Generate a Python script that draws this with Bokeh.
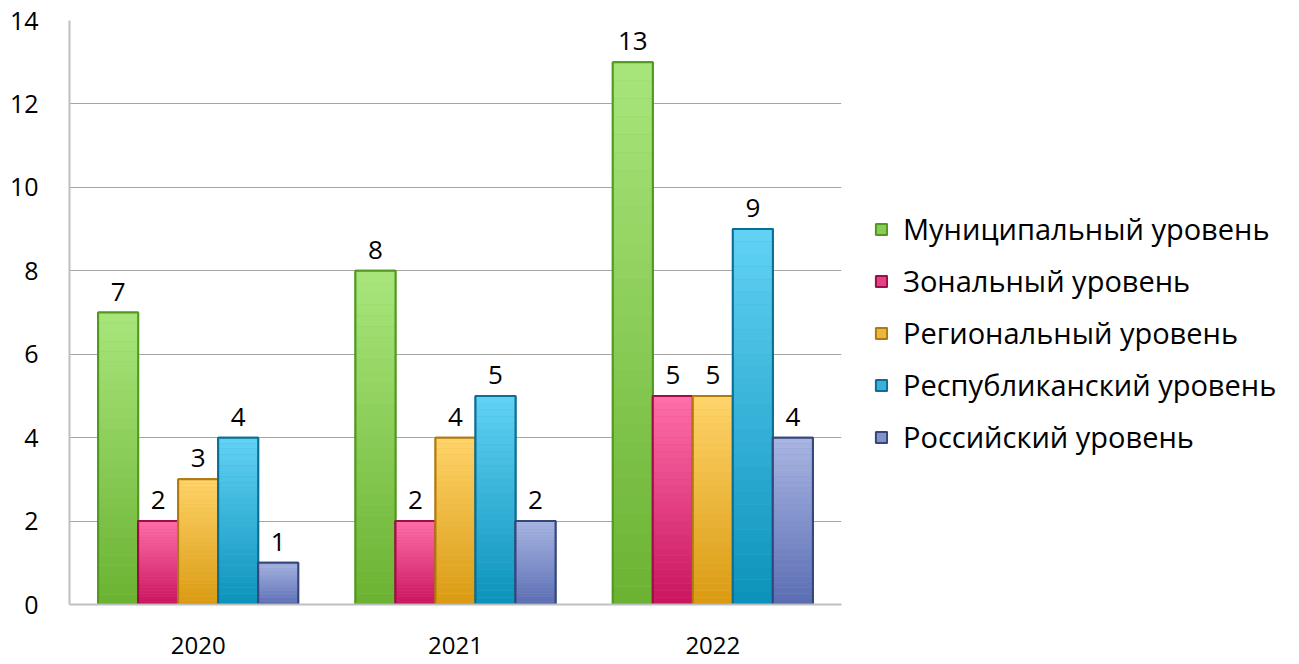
from bokeh.plotting import figure
from bokeh.models import FactorRange, Legend, LegendItem, ColumnDataSource, SingleIntervalTicker, LabelSet
from bokeh.core.properties import value
from bokeh.transform import dodge
from bokeh.embed import file_html
from bokeh.resources import INLINE

years = ["2020", "2021", "2022"]
series = ["Муниципальный уровень", "Зональный уровень", "Региональный уровень",
          "Республиканский уровень", "Российский уровень"]
municipal = [7, 8, 13]
zonal = [2, 2, 5]
regional = [3, 4, 5]
republic = [4, 5, 9]
russian = [1, 2, 4]
values = [municipal, zonal, regional, republic, russian]

top_cols = ["#a8e67c", "#ff70a9", "#ffd46a", "#62d2f5", "#a9b6e2"]
bot_cols = ["#6bb232", "#c8145e", "#d99a12", "#0c92ba", "#5a6db3"]
line_cols = ["#4f9a1f", "#9c0f47", "#b07a10", "#0b6e94", "#35467f"]

FONT = "Open Sans"

p = figure(x_range=FactorRange(factors=years), y_range=(0, 14),
           frame_width=772, frame_height=584, output_backend="svg", toolbar_location=None,
           min_border_left=69, min_border_right=10, min_border_top=20, min_border_bottom=59)
p.outline_line_color = None
p.background_fill_color = "white"

def hx(c):
    return tuple(int(c[i:i+2], 16) for i in (1, 3, 5))

def mix(a, b, t):
    a, b = hx(a), hx(b)
    return "#%02x%02x%02x" % tuple(round(a[k] + (b[k] - a[k]) * t) for k in range(3))

W = 0.1555
offsets = [-2 * W, -W, 0, W, 2 * W]
N = 30
items = []
for s, (name, vals) in enumerate(zip(series, values)):
    src = ColumnDataSource(dict(year=years, v=vals, lab=[str(v) for v in vals]))
    xd = dodge("year", offsets[s], range=p.x_range)
    base = p.vbar(x=xd, top="v", width=W, source=src,
                  fill_color=mix(top_cols[s], bot_cols[s], 0.5), line_color=line_cols[s], line_width=2)
    items.append(LegendItem(label=name, renderers=[base]))
    for i in range(N):
        frac0 = i / N
        frac1 = (i + 1) / N
        sl = ColumnDataSource(dict(year=years,
                                   b=[v * frac0 for v in vals],
                                   t=[v * frac1 for v in vals]))
        p.vbar(x=xd, bottom="b", top="t", width=W, source=sl,
               fill_color=mix(bot_cols[s], top_cols[s], (i + 0.5) / N), line_color=None)
    p.vbar(x=xd, top="v", width=W, source=src, fill_color=None,
           line_color=line_cols[s], line_width=2)
    labels = LabelSet(x=xd, y="v", text="lab", source=src, text_align="center",
                      text_baseline="bottom", y_offset=12, text_font_size=value("26px"),
                      text_font=value(FONT), text_color="black")
    p.add_layout(labels)

p.yaxis.ticker = SingleIntervalTicker(interval=2)
p.ygrid.ticker = SingleIntervalTicker(interval=2)
p.ygrid.grid_line_color = "#a6a6a6"
p.ygrid.grid_line_width = 1
p.xgrid.grid_line_color = None

for ax in (p.xaxis, p.yaxis):
    ax.axis_line_color = "#bfbfbf"
    ax.axis_line_width = 2
    ax.major_tick_line_color = None
    ax.minor_tick_line_color = None
    ax.major_label_text_font = FONT
    ax.major_label_text_color = "black"

p.yaxis.major_label_text_font_size = "25px"
p.yaxis.major_label_standoff = 25
p.xaxis.major_label_text_font_size = "24px"
p.xaxis.major_label_standoff = 26

legend = Legend(items=items, location=(33, 148), orientation="vertical",
                label_text_font=FONT, label_text_font_size="29px", label_text_color="black",
                glyph_width=14, glyph_height=14, label_height=30, label_standoff=15,
                spacing=13, padding=0, margin=0, border_line_color=None,
                background_fill_alpha=0)
p.add_layout(legend, "right")

open("out.html", "w").write(file_html(p, INLINE))
